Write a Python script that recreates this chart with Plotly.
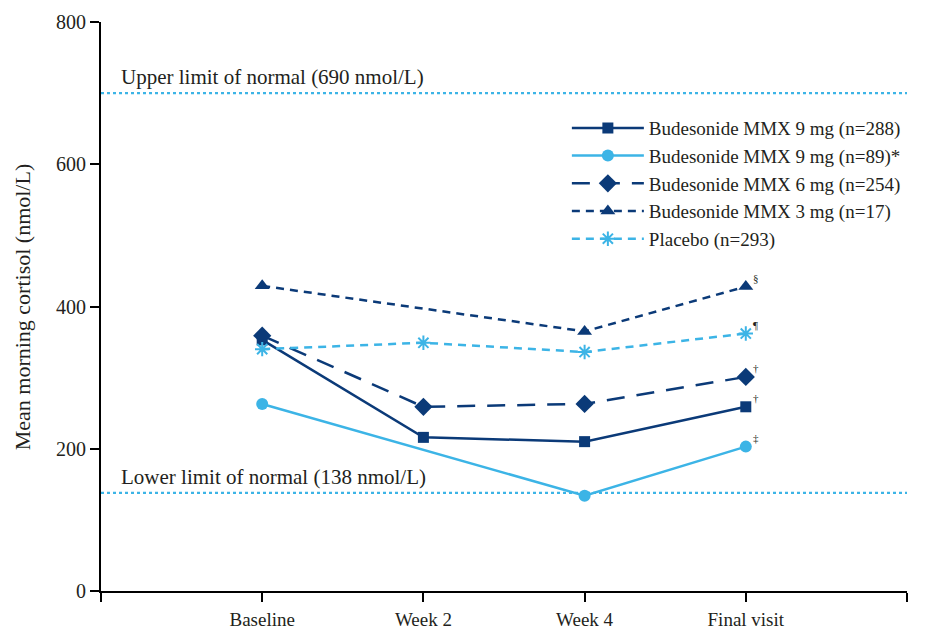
import plotly.graph_objects as go

visits = ["Baseline", "Week 2", "Week 4", "Final visit"]
mmx9_288 = [353, 216, 210, 259]
mmx9_89 = [263, None, 134, 203]
mmx6_254 = [359, 259, 263, 301]
mmx3_17 = [429, None, 365, 428]
placebo_293 = [340, 349, 336, 362]
final_marks = ["†", "‡", "†", "§", "¶"]
uln_value = 700
lln_value = 138

DARK = "#0b3a78"
LIGHT = "#3cb4e6"
TEXT = "#231f20"
FONT = "Liberation Serif"

xs = list(range(len(visits)))

series = [
    ("Budesonide MMX 9 mg (n=288)", mmx9_288, DARK, "solid", "square", 11),
    ("Budesonide MMX 9 mg (n=89)*", mmx9_89, LIGHT, "solid", "circle", 12),
    ("Budesonide MMX 6 mg (n=254)", mmx6_254, DARK, "18px,12px", "diamond", 14),
    ("Budesonide MMX 3 mg (n=17)", mmx3_17, DARK, "8px,6px", "triangle-up", 13),
    ("Placebo (n=293)", placebo_293, LIGHT, "8px,6px", "asterisk-open", 12),
]

fig = go.Figure()
for name, vals, col, dash, sym, size in series:
    marker = dict(symbol=sym, size=size, color=col)
    if sym == "asterisk-open":
        marker["line"] = dict(color=col, width=2)
    fig.add_trace(go.Scatter(
        x=xs, y=vals, name=name, mode="lines+markers", connectgaps=True,
        line=dict(color=col, width=2.5, dash=dash), marker=marker,
    ))

# reference lines
for yv in (uln_value, lln_value):
    fig.add_shape(type="line", xref="paper", x0=0, x1=1, yref="y", y0=yv, y1=yv,
                  line=dict(color=LIGHT, width=2.2, dash="dot"), layer="below")

fig.add_annotation(xref="paper", x=0.022, yref="y", y=uln_value, yshift=16,
                   text="Upper limit of normal (690 nmol/L)", showarrow=False,
                   xanchor="left", font=dict(family=FONT, size=21, color=TEXT))
fig.add_annotation(xref="paper", x=0.022, yref="y", y=lln_value, yshift=16,
                   text="Lower limit of normal (138 nmol/L)", showarrow=False,
                   xanchor="left", font=dict(family=FONT, size=21, color=TEXT))

# y-axis title
fig.add_annotation(xref="paper", x=-0.097, yref="paper", y=0.5, textangle=-90,
                   text="Mean morning cortisol (nmol/L)", showarrow=False,
                   xanchor="center", yanchor="middle",
                   font=dict(family=FONT, size=22, color=TEXT))

# footnote marks at final visit
for (name, vals, col, dash, sym, size), mark in zip(series, final_marks):
    fig.add_annotation(x=xs[-1], y=vals[-1], text=mark, showarrow=False,
                       xshift=10, yshift=9, xanchor="center",
                       font=dict(family=FONT, size=11, color=TEXT))

fig.update_layout(
    width=949, height=630,
    margin=dict(l=101, r=42, t=22, b=39),
    paper_bgcolor="white", plot_bgcolor="white",
    font=dict(family=FONT, size=20, color=TEXT),
    showlegend=True,
    legend=dict(x=0.578, y=0.847, xanchor="left", yanchor="top",
                bgcolor="rgba(0,0,0,0)", font=dict(family=FONT, size=19, color=TEXT),
                itemwidth=72, tracegroupgap=0),
    xaxis=dict(range=[-1, 4], tickvals=[-1] + xs + [4], ticktext=[""] + visits + [""],
               showgrid=False, zeroline=False, showline=True, linecolor="black",
               linewidth=2, ticks="outside", ticklen=9, tickwidth=2, tickcolor="black",
               ticklabelstandoff=1, automargin=False, fixedrange=True,
               tickfont=dict(family=FONT, size=19, color=TEXT)),
    yaxis=dict(range=[0, 800], tickvals=[0, 200, 400, 600, 800], showgrid=False,
               zeroline=False, showline=True, linecolor="black", linewidth=2,
               ticks="outside", ticklen=9, tickwidth=2, tickcolor="black",
               automargin=False, tickfont=dict(family=FONT, size=20, color=TEXT)),
)

fig.write_html("out.html", config={"displayModeBar": False},
               post_script="document.body.style.margin='0';document.body.style.padding='0';")
